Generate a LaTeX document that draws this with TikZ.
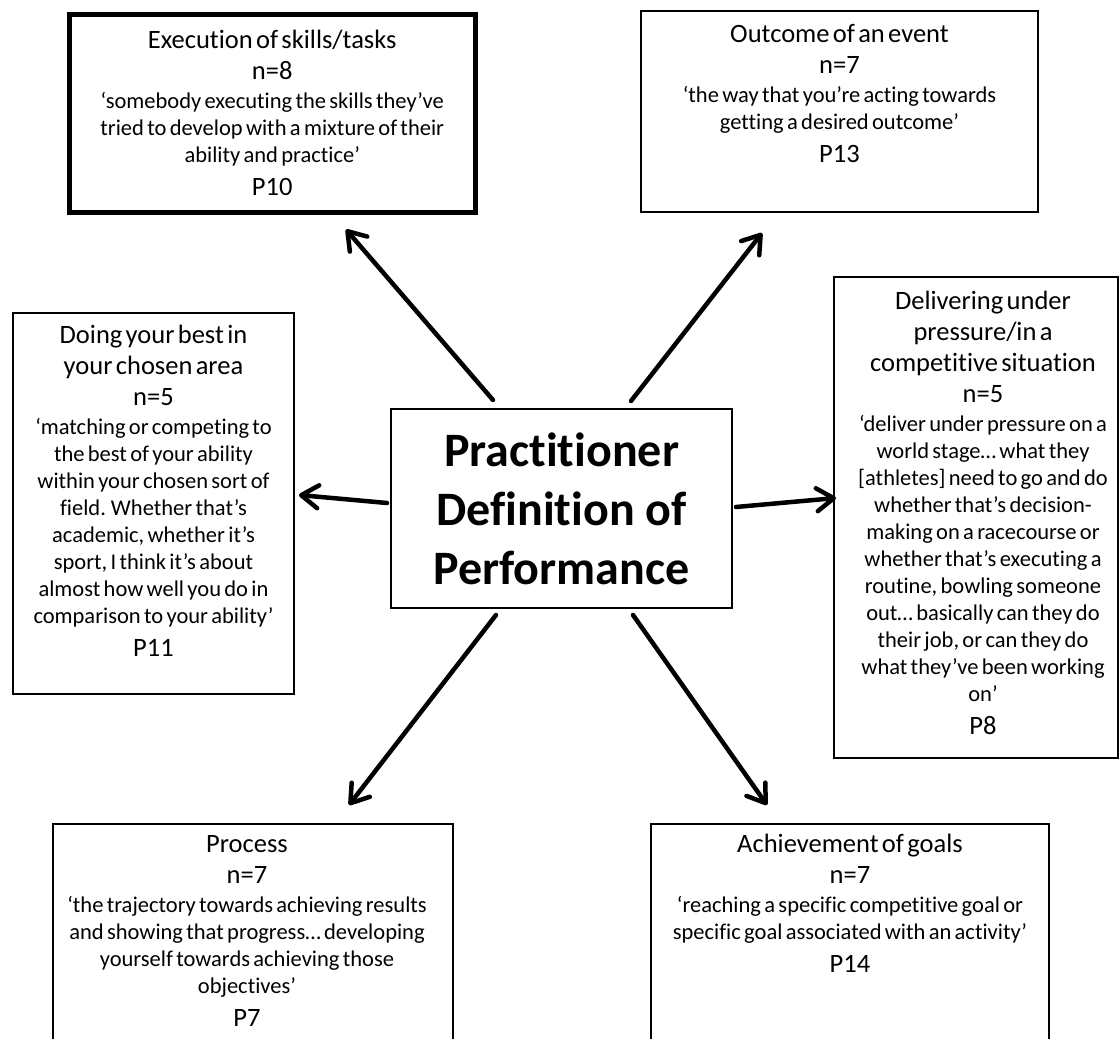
\documentclass[tikz,border=0pt]{standalone}
\usepackage{fontspec}
\setmainfont{Carlito}[Ligatures=NoCommon]
\usetikzlibrary{arrows.meta}

% type sizes: headings, quotes, and the gap between the parts of a box
\newcommand\headsz{\fontsize{26.5}{31}\selectfont}
\newcommand\quotesz{\fontsize{22.5}{27}\selectfont}
\newcommand\partgap{\vspace{2pt}}
\newcommand\firstline{\rule{0pt}{21pt}}

\tikzset{
  frame/.style={draw, line width=2pt, inner sep=0pt, anchor=north west},
  boxtext/.style={inner sep=0pt, anchor=north, text width=440pt, align=center},
  spoke/.style={line width=4.5pt, line cap=round,
    -{Straight Barb[length=17pt, width=23pt, line cap=round, line join=round]}}
}

\begin{document}
\begin{tikzpicture}[x=1pt, y=-1pt]
\path[use as bounding box, clip] (0,0) rectangle (1120,1039);
\fill[white] (0,0) rectangle (1120,1039);

% central concept
\node[frame, minimum width=341pt, minimum height=199pt, align=center,
      font=\fontsize{48}{59}\selectfont\bfseries] (ctr) at (390,408)
  {Practitioner\\Definition of\\Performance};

% surrounding definitions
\node[frame, line width=4.5pt, minimum width=406pt, minimum height=198pt] (exec) at (67,12) {};
\node[boxtext] (execT) at ([yshift=-15pt]exec.north)
  {\headsz\firstline Execution of skills/tasks\\ n=8\par\partgap
   \quotesz ‘somebody executing the skills they’ve\\ tried to develop with a mixture of their\\ ability and practice’\par\partgap
   \headsz P10\par};

\node[frame, minimum width=397pt, minimum height=201pt] (outc) at (640,10) {};
\node[boxtext] (outcT) at ([yshift=-11pt]outc.north)
  {\headsz\firstline Outcome of an event\\ n=7\par\partgap
   \quotesz ‘the way that you’re acting towards\\ getting a desired outcome’\par\partgap
   \headsz P13\par};

\node[frame, minimum width=281pt, minimum height=381pt] (best) at (12,312) {};
\node[boxtext] (bestT) at ([yshift=-10pt]best.north)
  {\headsz\firstline Doing your best in\\ your chosen area\\ n=5\par\partgap
   \quotesz ‘matching or competing to\\ the best of your ability\\ within your chosen sort of\\ field. Whether that’s\\ academic, whether it’s\\ sport, I think it’s about\\ almost how well you do in\\ comparison to your ability’\par\partgap
   \headsz P11\par};

\node[frame, minimum width=284pt, minimum height=481pt] (dlvr) at (833,276) {};
\node[boxtext] (dlvrT) at ([xshift=7pt, yshift=-12pt]dlvr.north)
  {\headsz\firstline Delivering under\\ pressure/in a\\ competitive situation\\ n=5\par\partgap
   \quotesz ‘deliver under pressure on a\\ world stage… what they\\ {[athletes]} need to go and do\\ whether that’s decision-\\ making on a racecourse or\\ whether that’s executing a\\ routine, bowling someone\\ out… basically can they do\\ their job, or can they do\\ what they’ve been working\\ on’\par\partgap
   \headsz P8\par};

\node[frame, minimum width=400pt, minimum height=240pt] (proc) at (52,823) {};
\node[boxtext] (procT) at ([xshift=-6pt, yshift=-8pt]proc.north)
  {\headsz\firstline Process\\ n=7\par\partgap
   \quotesz ‘the trajectory towards achieving results\\ and showing that progress… developing\\ yourself towards achieving those\\ objectives’\par\partgap
   \headsz P7\par};

\node[frame, minimum width=398pt, minimum height=240pt] (goal) at (650,823) {};
\node[boxtext] (goalT) at ([yshift=-8pt]goal.north)
  {\headsz\firstline Achievement of goals\\ n=7\par\partgap
   \quotesz ‘reaching a specific competitive goal or\\ specific goal associated with an activity’\par\partgap
   \headsz P14\par};

% spokes from the centre out to each definition
\draw[spoke] ([shift={(103,-8)}]ctr.north west) -- ([shift={(279,15)}]exec.south west);
\draw[spoke] ([shift={(241,-7)}]ctr.north west) -- ([shift={(122,20)}]outc.south west);
\draw[spoke] ([shift={(-3,95)}]ctr.north west)  -- ([shift={(4,183)}]best.north east);
\draw[spoke] ([shift={(3,99)}]ctr.north east)   -- ([shift={(3,222)}]dlvr.north west);
\draw[spoke] ([shift={(106,6)}]ctr.south west)  -- ([shift={(297,-18)}]proc.north west);
\draw[spoke] ([shift={(243,6)}]ctr.south west)  -- ([shift={(117,-18)}]goal.north west);
\end{tikzpicture}
\end{document}
